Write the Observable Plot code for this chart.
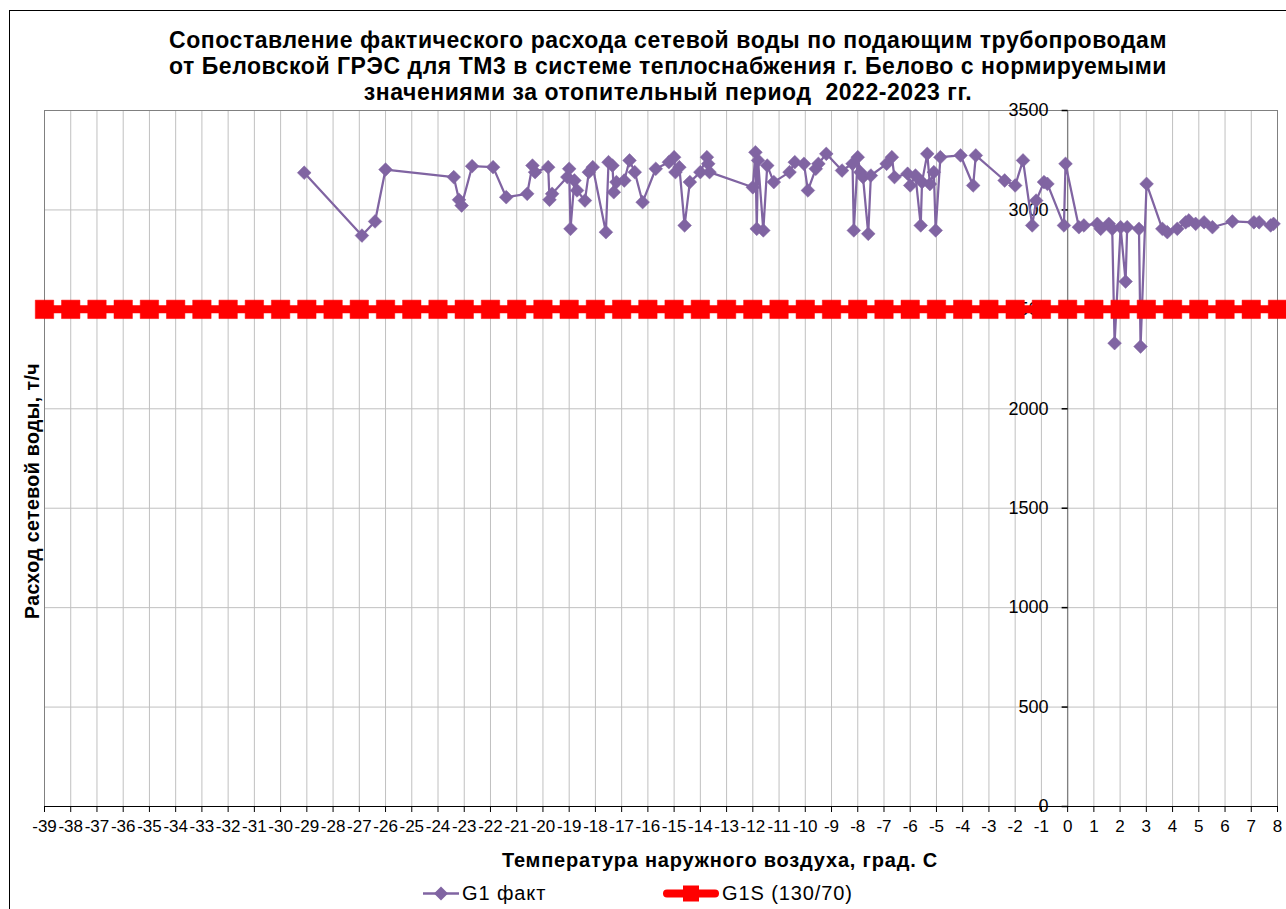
<!DOCTYPE html>
<html>
<head>
<meta charset="utf-8">
<script src="https://cdn.jsdelivr.net/npm/d3@7"></script>
<script src="https://cdn.jsdelivr.net/npm/@observablehq/plot@0.6"></script>
<style>
  html, body { margin: 0; padding: 0; background: #fff; }
  body { font-family: "Liberation Sans", Arial, sans-serif; color: #000; }
  #wrap { position: relative; width: 1286px; height: 909px; overflow: hidden; }
  #border { position: absolute; left: 9px; top: 10px; width: 1400px; height: 1000px; border: 1px solid #000; box-sizing: border-box; }
  #chart { position: absolute; left: 0; top: 0; }
  #title { position: absolute; left: 0; width: 1336px; top: 27px; text-align: center; font-weight: bold; font-size: 23px; letter-spacing: 0.55px; line-height: 26px; white-space: nowrap; }
  #ylab { position: absolute; left: 32px; top: 491px; transform: translate(-50%, -50%) rotate(-90deg); font-weight: bold; font-size: 19.5px; letter-spacing: 0.4px; white-space: nowrap; }
  #xlab { position: absolute; left: 720px; top: 860px; transform: translate(-50%, -50%); font-weight: bold; font-size: 20px; letter-spacing: 0.8px; white-space: nowrap; }
  .leg { position: absolute; top: 893px; transform: translateY(-50%); display: flex; align-items: center; font-size: 20px; letter-spacing: 0.9px; white-space: nowrap; }
  .leg svg { display: block; margin-right: 2px; }
</style>
</head>
<body>
<div id="wrap">
  <div id="border"></div>
  <div id="title">Сопоставление фактического расхода сетевой воды по подающим трубопроводам<br>от Беловской ГРЭС для ТМ3 в системе теплоснабжения г. Белово с нормируемыми<br>значениями за отопительный период&nbsp; 2022-2023 гг.</div>
  <div id="chart"></div>
  <div id="ylab">Расход сетевой воды, т/ч</div>
  <div id="xlab">Температура наружного воздуха, град. С</div>
  <div class="leg" id="leg1" style="left:422px"></div>
  <div class="leg" id="leg2" style="left:662px"></div>
</div>
<script>
// ---- data ----
const seriesNames = ["G1 факт", "G1S (130/70)"];

const factTemps = [-29.1, -26.9, -26.4, -26.0, -23.4, -23.2, -23.1, -22.7, -21.9, -21.4, -20.6, -20.4, -20.3, -19.8, -19.75, -19.65, -19.07, -19.0, -18.95, -18.8, -18.7, -18.4, -18.25, -18.1, -17.6, -17.5, -17.35, -17.3, -17.2, -16.9, -16.7, -16.5, -16.2, -15.7, -15.2, -15.0, -14.95, -14.8, -14.6, -14.4, -14.0, -13.75, -13.7, -13.65, -12.0, -11.9, -11.85, -11.8, -11.6, -11.45, -11.2, -10.6, -10.4, -10.05, -9.9, -9.6, -9.5, -9.2, -8.6, -8.2, -8.15, -8.0, -7.9, -7.8, -7.6, -7.5, -6.9, -6.7, -6.6, -6.1, -6.0, -5.8, -5.6, -5.55, -5.35, -5.25, -5.1, -5.03, -4.85, -4.08, -3.6, -3.5, -2.4, -2.0, -1.7, -1.35, -1.2, -0.9, -0.77, -0.14, -0.08, 0.43, 0.62, 1.13, 1.26, 1.57, 1.7, 1.79, 2.02, 2.21, 2.27, 2.72, 2.78, 3.01, 3.61, 3.8, 4.18, 4.5, 4.62, 4.88, 5.2, 5.52, 6.28, 7.1, 7.3, 7.74, 7.85];

const factFlows = [3187, 2871, 2942, 3203, 3165, 3051, 3022, 3220, 3215, 3064, 3081, 3223, 3190, 3215, 3051, 3081, 3165, 3207, 2905, 3148, 3098, 3047, 3190, 3215, 2888, 3240, 3223, 3089, 3140, 3148, 3249, 3190, 3039, 3207, 3240, 3265, 3190, 3215, 2922, 3140, 3190, 3265, 3232, 3190, 3114, 3290, 2905, 3249, 2897, 3223, 3140, 3190, 3240, 3232, 3098, 3207, 3232, 3282, 3198, 3232, 2897, 3265, 3190, 3165, 2880, 3173, 3232, 3265, 3165, 3182, 3123, 3173, 2922, 3140, 3282, 3130, 3190, 2897, 3265, 3274, 3123, 3274, 3148, 3123, 3249, 2922, 3047, 3140, 3131, 2922, 3232, 2913, 2922, 2930, 2905, 2930, 2905, 2330, 2913, 2640, 2913, 2905, 2313, 3131, 2905, 2888, 2905, 2938, 2947, 2930, 2938, 2913, 2942, 2938, 2938, 2922, 2930];

const normTemps = [-39, -38, -37, -36, -35, -34, -33, -32, -31, -30, -29, -28, -27, -26, -25, -24, -23, -22, -21, -20, -19, -18, -17, -16, -15, -14, -13, -12, -11, -10, -9, -8, -7, -6, -5, -4, -3, -2, -1, 0, 1, 2, 3, 4, 5, 6, 7, 8];
const normFlows = [2500, 2500, 2500, 2500, 2500, 2500, 2500, 2500, 2500, 2500, 2500, 2500, 2500, 2500, 2500, 2500, 2500, 2500, 2500, 2500, 2500, 2500, 2500, 2500, 2500, 2500, 2500, 2500, 2500, 2500, 2500, 2500, 2500, 2500, 2500, 2500, 2500, 2500, 2500, 2500, 2500, 2500, 2500, 2500, 2500, 2500, 2500, 2500];

const xTicks = [-39, -38, -37, -36, -35, -34, -33, -32, -31, -30, -29, -28, -27, -26, -25, -24, -23, -22, -21, -20, -19, -18, -17, -16, -15, -14, -13, -12, -11, -10, -9, -8, -7, -6, -5, -4, -3, -2, -1, 0, 1, 2, 3, 4, 5, 6, 7, 8];
const yTicks = [0, 500, 1000, 1500, 2000, 2500, 3000, 3500];

// ---- tables ----
const fact = factTemps.map((t, i) => ({t, v: factFlows[i]}));
const norm = normTemps.map((t, i) => ({t, v: normFlows[i]}));

const PURPLE = "#8064A2";
const RED = "#FF0000";

const leftTick = {draw(ctx) { ctx.moveTo(-6, 0); ctx.lineTo(0, 0); }};

const chart = Plot.plot({
  width: 1286,
  height: 909,
  marginTop: 110,
  marginBottom: 103,
  marginLeft: 44,
  marginRight: 9,
  x: {domain: [-39, 8], axis: null},
  y: {domain: [0, 3500], axis: null},
  style: {fontFamily: "'Liberation Sans', Arial, sans-serif", fontSize: "17px", color: "#000", background: "transparent", overflow: "visible"},
  marks: [
    Plot.gridX({ticks: xTicks, stroke: "#c0c0c0", strokeOpacity: 1}),
    Plot.gridY({ticks: yTicks, stroke: "#c0c0c0", strokeOpacity: 1}),
    Plot.frame({stroke: "#808080"}),
    Plot.ruleX([0], {stroke: "#808080", strokeWidth: 1.3}),
    Plot.ruleY([0], {stroke: "#000"}),
    Plot.axisX({ticks: xTicks, tickSize: 6, tickPadding: 7, tickFormat: d => String(d), label: null, fontSize: 17}),
    Plot.dot(yTicks, {x: 0, y: d => d, symbol: leftTick, stroke: "#000", r: 1}),
    Plot.text(yTicks, {x: 0, y: d => d, text: d => String(d), textAnchor: "end", dx: -19, fontSize: 18}),
    Plot.line(fact, {x: "t", y: "v", stroke: PURPLE, strokeWidth: 2.25}),
    Plot.dot(fact, {x: "t", y: "v", symbol: "diamond2", r: 6.2, fill: PURPLE, stroke: PURPLE, strokeWidth: 0.5}),
    Plot.line(norm, {x: "t", y: "v", stroke: RED, strokeWidth: 8}),
    Plot.dot(norm, {x: "t", y: "v", symbol: "square", r: 10.4, fill: RED, stroke: RED, strokeWidth: 0.5})
  ]
});
document.getElementById("chart").appendChild(chart);

// ---- legend ----
document.getElementById("leg1").innerHTML =
  `<svg width="38" height="16"><line x1="1" y1="8" x2="37" y2="8" stroke="${PURPLE}" stroke-width="2.5"/><path d="M19 1 L26 8 L19 15 L12 8 Z" fill="${PURPLE}"/></svg><span>${seriesNames[0]}</span>`;
document.getElementById("leg2").innerHTML =
  `<svg width="58" height="20"><line x1="5" y1="10" x2="53" y2="10" stroke="${RED}" stroke-width="8" stroke-linecap="round"/><rect x="21" y="2" width="16" height="16" fill="${RED}"/></svg><span>${seriesNames[1]}</span>`;
</script>
</body>
</html>
